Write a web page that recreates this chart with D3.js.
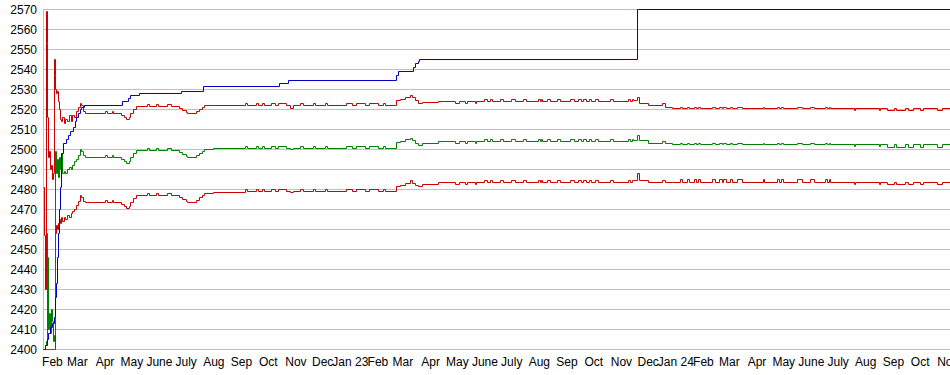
<!DOCTYPE html>
<html>
<head>
<meta charset="utf-8">
<script src="https://cdn.jsdelivr.net/npm/d3@7"></script>
<style>
  body { margin: 0; background: #fff; }
  svg { display: block; font-family: "Liberation Sans", Arial, sans-serif; }
</style>
</head>
<body>
<div id="chart"></div>
<script>
/* ── Data ── */
var monthNames = ['Jan', 'Feb', 'Mar', 'Apr', 'May', 'June', 'July', 'Aug', 'Sep', 'Oct', 'Nov', 'Dec'];
var yTicks = [2400, 2410, 2420, 2430, 2440, 2450, 2460, 2470, 2480, 2490,
  2500, 2510, 2520, 2530, 2540, 2550, 2560, 2570];

/* rating history: each value holds until the next date */
var dates = [
  '2022-01-22', '2022-01-23', '2022-01-24', '2022-01-25', '2022-01-26', '2022-01-27', '2022-01-28', '2022-01-29', '2022-01-30', '2022-01-31',
  '2022-02-01', '2022-02-02', '2022-02-03', '2022-02-04', '2022-02-05', '2022-02-06', '2022-02-07', '2022-02-08', '2022-02-09', '2022-02-10',
  '2022-02-11', '2022-02-12', '2022-02-14', '2022-02-16', '2022-02-18', '2022-02-20', '2022-02-22', '2022-02-24', '2022-02-26', '2022-02-28',
  '2022-03-02', '2022-03-04', '2022-03-06', '2022-03-08', '2022-03-10', '2022-04-02', '2022-04-04', '2022-04-09', '2022-04-11', '2022-04-20',
  '2022-04-23', '2022-04-25', '2022-04-28', '2022-04-30', '2022-05-03', '2022-05-06', '2022-05-19', '2022-05-21', '2022-05-29', '2022-05-31',
  '2022-06-10', '2022-06-14', '2022-06-24', '2022-06-27', '2022-07-01', '2022-07-03', '2022-07-13', '2022-07-16', '2022-07-19', '2022-07-22',
  '2022-08-01', '2022-09-05', '2022-09-08', '2022-09-18', '2022-09-20', '2022-09-24', '2022-09-27', '2022-10-05', '2022-10-09', '2022-10-13',
  '2022-10-22', '2022-10-26', '2022-10-29', '2022-11-06', '2022-11-09', '2022-11-21', '2022-11-23', '2022-12-04', '2022-12-06', '2022-12-28',
  '2023-01-03', '2023-01-08', '2023-01-18', '2023-01-23', '2023-02-02', '2023-02-07', '2023-02-10', '2023-02-22', '2023-02-26', '2023-03-04',
  '2023-03-09', '2023-03-12', '2023-03-15', '2023-03-18', '2023-03-23', '2023-04-10', '2023-04-29', '2023-05-04', '2023-05-10', '2023-05-12',
  '2023-05-21', '2023-05-23', '2023-06-01', '2023-06-04', '2023-06-07', '2023-06-10', '2023-06-18', '2023-06-22', '2023-07-01', '2023-07-05',
  '2023-07-14', '2023-07-18', '2023-07-31', '2023-08-02', '2023-08-03', '2023-08-05', '2023-08-10', '2023-08-14', '2023-08-21', '2023-08-25',
  '2023-09-05', '2023-09-09', '2023-09-14', '2023-09-17', '2023-09-20', '2023-09-23', '2023-09-26', '2023-09-29', '2023-10-03', '2023-10-06',
  '2023-10-20', '2023-10-23', '2023-11-09', '2023-11-11', '2023-11-13', '2023-11-15', '2023-11-19', '2023-11-21', '2023-12-01', '2023-12-17',
  '2023-12-20', '2023-12-28', '2024-01-06', '2024-01-08', '2024-01-14', '2024-01-16', '2024-01-22', '2024-01-24', '2024-01-26', '2024-01-29',
  '2024-02-11', '2024-02-15', '2024-02-19', '2024-02-22', '2024-02-24', '2024-02-27', '2024-03-02', '2024-03-05', '2024-03-10', '2024-03-16',
  '2024-04-08', '2024-04-09', '2024-04-24', '2024-04-26', '2024-04-28', '2024-05-01', '2024-05-16', '2024-05-22', '2024-05-31', '2024-06-04',
  '2024-06-17', '2024-06-19', '2024-06-21', '2024-06-23', '2024-07-19', '2024-07-20', '2024-08-16', '2024-08-17', '2024-08-25', '2024-09-02',
  '2024-09-05', '2024-09-14', '2024-09-18', '2024-09-24', '2024-10-01', '2024-10-05', '2024-10-20', '2024-10-26', '2024-11-04'
];

var upper = [
  2481, 2457, 2430, 2569, 2553, 2516, 2496, 2499, 2490, 2492,
  2485, 2488, 2545, 2537, 2530, 2528, 2529, 2524, 2520, 2515,
  2514, 2516, 2513, 2515, 2514, 2517, 2514, 2517, 2516, 2519,
  2521, 2523, 2522, 2519, 2518, 2519, 2518, 2519, 2518, 2517,
  2516, 2515, 2516, 2518, 2520, 2521.5, 2522.5, 2521.5, 2522.5, 2521.5,
  2522.3, 2521.5, 2520.5, 2519.5, 2518.5, 2518, 2519, 2520, 2521, 2522,
  2522, 2522.8, 2522, 2522.8, 2522, 2522.8, 2522, 2522.8, 2522, 2522.8,
  2522, 2520.5, 2522, 2522.8, 2522, 2522.8, 2522, 2522.8, 2522, 2522.8,
  2522, 2522.8, 2522, 2522.8, 2522, 2522.8, 2522, 2524.5, 2525, 2526.2,
  2527, 2526, 2524.5, 2522.8, 2523.7, 2524, 2523, 2524, 2523, 2524,
  2523, 2524, 2525, 2524, 2525, 2524, 2525, 2524, 2525, 2524,
  2525, 2524, 2525, 2524, 2525, 2524, 2525, 2524, 2525, 2524,
  2525, 2524, 2525, 2524, 2525, 2524, 2525, 2524, 2525, 2524,
  2525, 2524, 2525, 2524, 2525, 2524.5, 2526, 2523, 2522, 2522.8,
  2521.2, 2520.3, 2521.2, 2520.3, 2521.2, 2520.3, 2521.2, 2520.3, 2521.2, 2520.3,
  2521.2, 2520.3, 2521.2, 2520.3, 2521.2, 2520.3, 2521.2, 2520.3, 2521.2, 2520.3,
  2521.2, 2520.3, 2521.2, 2520.3, 2521.2, 2520.3, 2521.2, 2520.3, 2521.2, 2520.3,
  2521.2, 2520.3, 2521.2, 2520.3, 2519.5, 2520.3, 2519.5, 2520.3, 2519.3, 2520.3,
  2519.3, 2520.3, 2519.3, 2520.3, 2519.3, 2520.3, 2519.3, 2520.3, 2520.3
];

var rating = [
  2400, 2400, 2402, 2404, 2458, 2446, 2410, 2418, 2408, 2420,
  2414, 2404, 2407, 2446, 2499, 2488, 2495, 2486, 2496, 2490,
  2498, 2488, 2489, 2488, 2490, 2491, 2490, 2492, 2494, 2495,
  2497, 2500, 2499, 2497, 2496, 2497, 2496, 2497, 2496, 2495,
  2494, 2493, 2494, 2496, 2498, 2499.5, 2500.5, 2499.5, 2500.5, 2499.5,
  2500.3, 2499.5, 2498.5, 2497.5, 2496.5, 2496, 2497, 2498, 2499, 2500,
  2500.5, 2501.3, 2500.5, 2501.3, 2500.5, 2501.3, 2500.5, 2501.3, 2500.5, 2501.3,
  2500.5, 2500, 2500.5, 2501.3, 2500.5, 2501.3, 2500.5, 2501.3, 2500.5, 2501.3,
  2500.5, 2501.3, 2500.5, 2501.3, 2500.5, 2501.3, 2500.5, 2503.5, 2504, 2505,
  2505.5, 2504.5, 2503, 2502, 2502.8, 2504, 2503, 2504, 2503, 2504,
  2503, 2504, 2505, 2504, 2505, 2504, 2505, 2504, 2505, 2504,
  2505, 2504, 2505, 2504, 2505, 2504, 2505, 2504, 2505, 2504,
  2505, 2504, 2505, 2504, 2505, 2504, 2505, 2504, 2505, 2504,
  2505, 2504, 2505, 2504, 2505, 2504.5, 2507, 2504.5, 2503.2, 2504,
  2503.2, 2502.3, 2503.2, 2502.3, 2503.2, 2502.3, 2503.2, 2502.3, 2503.2, 2502.3,
  2503.2, 2502.3, 2503.2, 2502.3, 2503.2, 2502.3, 2503.2, 2502.3, 2503.2, 2502.3,
  2503.2, 2502.3, 2503.2, 2502.3, 2503.2, 2502.3, 2503.2, 2502.3, 2503.2, 2502.3,
  2503.2, 2502.3, 2503.2, 2502.3, 2501.5, 2502.3, 2501.5, 2502.3, 2501.2, 2502.3,
  2501.2, 2502.3, 2501.2, 2502.3, 2501.2, 2502.3, 2501.2, 2502.3, 2502.3
];

var lower = [
  2400, 2400, 2400, 2400, 2400, 2400, 2400, 2400, 2400, 2400,
  2400, 2400, 2400, 2452, 2458, 2462, 2460, 2463, 2465, 2463,
  2466, 2464, 2466, 2465, 2467, 2466, 2468, 2469, 2470, 2472,
  2474, 2477, 2476, 2474, 2473.5, 2474.5, 2473.5, 2474.5, 2473.5, 2472.5,
  2471.5, 2470.5, 2471.5, 2473.5, 2475.5, 2477, 2478, 2477, 2478, 2477,
  2477.8, 2477, 2476, 2475, 2474, 2473.5, 2474.5, 2476, 2477, 2478,
  2478.5, 2479.8, 2479, 2479.8, 2479, 2479.8, 2479, 2479.8, 2479, 2479.8,
  2479, 2478.5, 2479, 2479.8, 2479, 2479.8, 2479, 2479.8, 2479, 2479.8,
  2479, 2479.8, 2479, 2479.8, 2479, 2479.8, 2479, 2481.5, 2482, 2483,
  2484.5, 2483, 2482, 2481.5, 2482.5, 2483.3, 2482.3, 2483.3, 2482.3, 2483.3,
  2482.3, 2483.3, 2484.5, 2483.3, 2484.5, 2483.3, 2484.5, 2483.3, 2484.5, 2483.3,
  2484.5, 2483.3, 2484.5, 2483.3, 2484.5, 2483.3, 2484.5, 2483.3, 2484.5, 2483.3,
  2484.5, 2483.3, 2484.5, 2483.3, 2484.5, 2483.3, 2484.5, 2483.3, 2484.5, 2483.3,
  2484.5, 2483.3, 2484.5, 2483.3, 2484.5, 2484.5, 2487.8, 2484.5, 2483.3, 2484.5,
  2483.3, 2483.3, 2484.8, 2483.3, 2484.8, 2483.3, 2484.8, 2483.3, 2484.8, 2483.3,
  2484.8, 2483.3, 2484.8, 2483.3, 2484.8, 2483.3, 2484.8, 2483.3, 2484.8, 2483.3,
  2484.8, 2483.3, 2484.8, 2483.3, 2484.8, 2483.3, 2484.8, 2483.3, 2484.8, 2483.3,
  2484.8, 2483.3, 2484.8, 2483.3, 2482.5, 2483.3, 2482.5, 2483.3, 2482.3, 2483.3,
  2482.3, 2483.3, 2482.3, 2483.3, 2482.3, 2483.3, 2482.3, 2483.3, 2483.3
];

/* highest rating reached so far */
var peakDates = [
  '2022-01-22', '2022-01-24', '2022-01-26', '2022-01-28', '2022-01-30', '2022-02-01', '2022-02-03', '2022-02-04', '2022-02-05', '2022-02-06',
  '2022-02-07', '2022-02-08', '2022-02-09', '2022-02-10', '2022-02-11', '2022-02-13', '2022-02-17', '2022-02-19', '2022-02-21', '2022-02-25',
  '2022-02-27', '2022-02-28', '2022-03-02', '2022-03-04', '2022-03-06', '2022-03-09', '2022-04-21', '2022-04-27', '2022-04-29', '2022-05-10',
  '2022-06-26', '2022-07-20', '2022-10-14', '2022-10-24', '2023-02-22', '2023-02-24', '2023-03-13', '2023-03-15', '2023-03-18', '2023-03-20',
  '2023-11-19', '2024-11-04'
];
var peak = [
  2400, 2402, 2405, 2408, 2411, 2413, 2416, 2420, 2426, 2433,
  2446, 2458, 2470, 2481, 2498, 2503, 2505, 2507, 2509, 2511,
  2514, 2516, 2518, 2520, 2521, 2522, 2524, 2525.5, 2527, 2528,
  2529, 2531.7, 2533, 2534.7, 2537, 2539, 2541, 2543, 2544, 2545,
  2570, 2570
];

(function () {
  'use strict';

  var W = 950, H = 375;
  var M = { top: 9, right: 0, bottom: 26, left: 43 };

  var parse = d3.timeParse('%Y-%m-%d');
  var yearFmt = d3.timeFormat('%y');

  var svg = d3.select('#chart')
    .append('svg')
    .attr('width', W)
    .attr('height', H);

  var x = d3.scaleTime()
    .domain(d3.extent(dates.concat(peakDates), function (d) { return parse(d); }))
    .range([M.left, W - M.right]);

  var y = d3.scaleLinear()
    .domain([2400, 2570])
    .range([H - M.bottom, M.top]);

  /* snap to pixel centres so 1px strokes stay sharp and full colour */
  function px(v) { return Math.round(v) + 0.5; }

  /* ── Grid ── */
  svg.append('g')
    .selectAll('line')
    .data(yTicks)
    .join('line')
    .attr('x1', M.left)
    .attr('x2', W)
    .attr('y1', function (d) { return px(y(d)); })
    .attr('y2', function (d) { return px(y(d)); })
    .attr('stroke', '#c0c0c0');

  svg.append('line')
    .attr('x1', px(M.left)).attr('x2', px(M.left))
    .attr('y1', px(y(2570)))
    .attr('y2', px(y(2400)))
    .attr('stroke', '#c0c0c0');

  /* ── Axes ── */
  var yAxis = svg.append('g')
    .attr('transform', 'translate(' + M.left + ',0.5)')
    .call(d3.axisLeft(y)
      .tickValues(yTicks)
      .tickFormat(d3.format('d'))
      .tickSize(0)
      .tickPadding(6));

  var xAxis = svg.append('g')
    .attr('transform', 'translate(0,' + (H - M.bottom) + ')')
    .call(d3.axisBottom(x)
      .ticks(d3.timeMonth.every(1))
      .tickSize(0)
      .tickPadding(8)
      .tickFormat(function (d) {
        var m = d.getMonth();
        return m === 0 ? monthNames[0] + ' ' + yearFmt(d) : monthNames[m];
      }));

  [yAxis, xAxis].forEach(function (ax) {
    ax.select('.domain').remove();
    ax.selectAll('text')
      .attr('fill', '#000')
      .style('font-size', '12px')
      .style('font-family', '"Liberation Sans", Arial, sans-serif');
  });

  /* ── Lines ── */
  var rows = dates.map(function (d, i) {
    return { date: parse(d), u: upper[i], r: rating[i], l: lower[i] };
  });
  var peakRows = peakDates.map(function (d, i) {
    return { date: parse(d), p: peak[i] };
  });

  function lineFor(key) {
    return d3.line()
      .x(function (d) { return px(x(d.date)); })
      .y(function (d) { return px(y(d[key])); })
      .curve(d3.curveStepAfter);
  }

  var series = [
    { data: rows, key: 'l', color: '#cc0000' },
    { data: rows, key: 'r', color: '#008000' },
    { data: rows, key: 'u', color: '#cc0000' },
    { data: peakRows, key: 'p', color: '#0000cc' }
  ];

  series.forEach(function (s) {
    svg.append('path')
      .datum(s.data)
      .attr('d', lineFor(s.key))
      .attr('fill', 'none')
      .attr('stroke', s.color)
      .attr('stroke-width', 1);
  });

})();
</script>
</body>
</html>
